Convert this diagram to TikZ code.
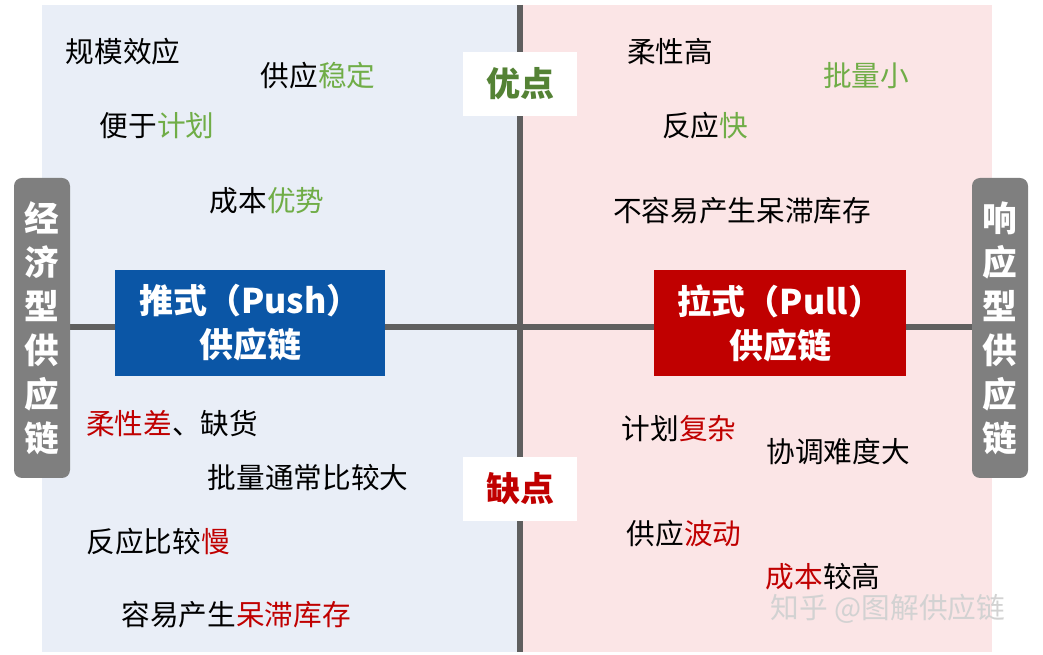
\documentclass[tikz,border=0pt]{standalone}
\usepackage{fontspec}
\setmainfont{Noto Sans CJK SC}
\definecolor{lb}{HTML}{E9EEF7}
\definecolor{lp}{HTML}{FBE5E6}
\definecolor{gl}{HTML}{5F5F5F}
\definecolor{gb}{HTML}{7F7F7F}
\definecolor{bb}{HTML}{0B56A6}
\definecolor{rb}{HTML}{C00000}
\definecolor{gg}{HTML}{70AD47}
\definecolor{dg}{HTML}{548235}
\begin{document}
\begin{tikzpicture}[x=0.75pt,y=-0.75pt,
  t/.style={font=\fontsize{21.5}{24}\selectfont,inner sep=0pt},
  side/.style={fill=gb,rounded corners=6pt,text=white,font=\bfseries\fontsize{26}{33}\selectfont,align=center,minimum width=42pt,minimum height=225pt},
  big/.style={text=white,font=\bfseries\fontsize{25.5}{33}\selectfont,align=center,minimum height=80pt},
  lab/.style={fill=white,font=\bfseries\fontsize{25.5}{28}\selectfont,minimum width=85pt,minimum height=48pt}]
\useasboundingbox (0,0) rectangle (1043,655);
\fill[lb] (42,5) rectangle (520,652);
\fill[lp] (520,5) rectangle (992,652);
\draw[gl,line width=4.5pt] (520,5) -- (520,652);
\draw[gl,line width=4.5pt] (70,327) -- (975,327);
\node[side] (L) at (42,328) {经\\济\\型\\供\\应\\链};
\node[side] (R) at (1000,328) {响\\应\\型\\供\\应\\链};
\node[big,fill=bb,minimum width=202pt] (push) at (250,323) {推式（Push）\\供应链};
\node[big,fill=rb,minimum width=189pt] (pull) at (780,323) {拉式（Pull）\\供应链};
\node[lab,text=dg] (adv) at (520,84) {优点};
\node[lab,text=rb] (dis) at (520,489) {缺点};
\node[t] (a1) at (123,52) {规模效应};
\node[t] (a2) at (318,76) {供应\textcolor{gg}{稳定}};
\node[t] (a3) at (157,126) {便于\textcolor{gg}{计划}};
\node[t] (a4) at (267,201) {成本\textcolor{gg}{优势}};
\node[t] (b1) at (670,52) {柔性高};
\node[t,text=gg] (b2) at (866,76) {批量小};
\node[t] (b3) at (705,126) {反应\textcolor{gg}{快}};
\node[t] (b4) at (742,211) {不容易产生呆滞库存};
\node[t] (c1) at (172,424) {\textcolor{rb}{柔性差}、缺货};
\node[t] (c2) at (308,478) {批量通常比较大};
\node[t] (c3) at (158,542) {反应比较\textcolor{rb}{慢}};
\node[t] (c4) at (236,615) {容易产生\textcolor{rb}{呆滞库存}};
\node[t] (d1) at (679,429) {计划\textcolor{rb}{复杂}};
\node[t] (d2) at (838,452) {协调难度大};
\node[t] (d3) at (684,534) {供应\textcolor{rb}{波动}};
\node[t] (d4) at (823,577) {\textcolor{rb}{成本}较高};
\node[t,text=white!65!gray] (w) at (888,609) {知乎 @图解供应链};
\end{tikzpicture}
\end{document}
